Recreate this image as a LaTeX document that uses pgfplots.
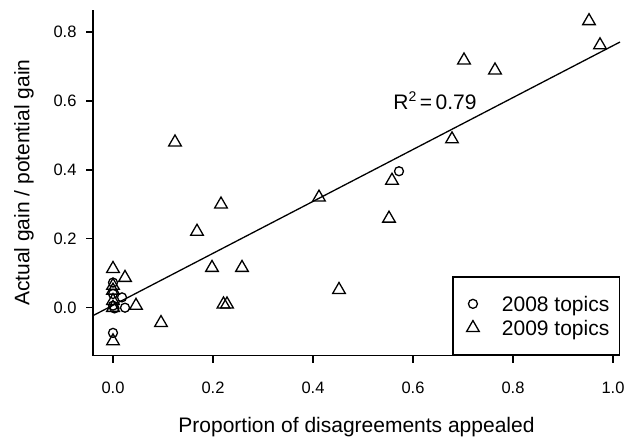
\documentclass[border=0pt]{standalone}
\usepackage{fontspec}
\setmainfont{Liberation Sans}
\usepackage{pgfplots}
\pgfplotsset{compat=1.18}

% Actual vs. potential gain against the share of disagreements appealed
\pgfplotstableread{
x y
0.572 0.396
0.000 -0.073
0.000 0.073
0.000 0.040
0.018 0.030
0.000 0.006
0.024 0.000
0.003 -0.002
}\topicsA

\pgfplotstableread{
x y
0.952 0.832
0.974 0.762
0.702 0.718
0.764 0.689
0.678 0.489
0.124 0.480
0.558 0.369
0.412 0.320
0.216 0.300
0.552 0.259
0.168 0.221
0.198 0.116
0.258 0.116
0.000 0.113
0.024 0.087
0.000 0.064
0.452 0.052
0.000 0.050
0.000 0.020
0.221 0.010
0.228 0.010
0.046 0.006
0.000 0.000
0.096 -0.044
0.000 -0.097
}\topicsB

\begin{document}
\begin{tikzpicture}
\path[use as bounding box] (0,0) rectangle (626pt,437pt);
\begin{axis}[
  at={(93pt,81.5pt)}, anchor=south west,
  scale only axis, width=527pt, height=345.5pt,
  xmin=-0.04, xmax=1.014, ymin=-0.1387, ymax=0.8639,
  axis x line*=bottom, axis y line*=left,
  axis line style={line width=1.3pt, -},
  tick style={line width=1.3pt, black},
  tick align=outside, major tick length=7pt,
  xtick={0,0.2,0.4,0.6,0.8,1.0},
  xticklabels={0.0,0.2,0.4,0.6,0.8,1.0},
  ytick={0,0.2,0.4,0.6,0.8},
  yticklabels={0.0,0.2,0.4,0.6,0.8},
  ticklabel style={font=\fontsize{16.5}{19}\selectfont},
  xticklabel style={anchor=center, yshift=-25pt},
  yticklabel style={anchor=east, xshift=-6pt},
  xlabel={Proportion of disagreements appealed},
  ylabel={Actual gain / potential gain},
  label style={font=\fontsize{21}{25}\selectfont},
  xlabel style={at={(axis description cs:0.5,-0.2080)}, anchor=center},
  ylabel style={at={(axis description cs:-0.131,0.5)}, anchor=center},
  clip=false,
  legend style={at={(axis description cs:1,0)}, anchor=south east,
    draw=black, line width=1.3pt, inner xsep=10pt, inner ysep=17pt,
    font=\fontsize{21}{25}\selectfont, row sep=4pt,
    nodes={inner sep=0pt, anchor=west, text height=18pt, text depth=2pt}},
  legend cell align=left,
  legend image code/.code={%
    \path[draw=none] (0pt,0pt) -- (39pt,0pt);
    \path[only marks, draw=none] plot coordinates {(10pt,0pt)};},
]
\addplot[only marks, mark=o, mark size=4.5pt, line width=1.3pt, black]
  table[x=x, y=y] {\topicsA};
\addlegendentry{2008 topics}
\addplot[only marks, mark=triangle, mark size=7.3pt, line width=1.3pt, black]
  table[x=x, y=y] {\topicsB};
\addlegendentry{2009 topics}
\addplot[line width=1.3pt, black, forget plot]
  coordinates {(-0.04,-0.023) (1.014,0.771)};
\node[font=\fontsize{21}{25}\selectfont] at (axis cs:0.644,0.6)
  {R\raisebox{8pt}{\fontsize{14}{16}\selectfont 2}\,=\,0.79};
\end{axis}
\end{tikzpicture}
\end{document}
